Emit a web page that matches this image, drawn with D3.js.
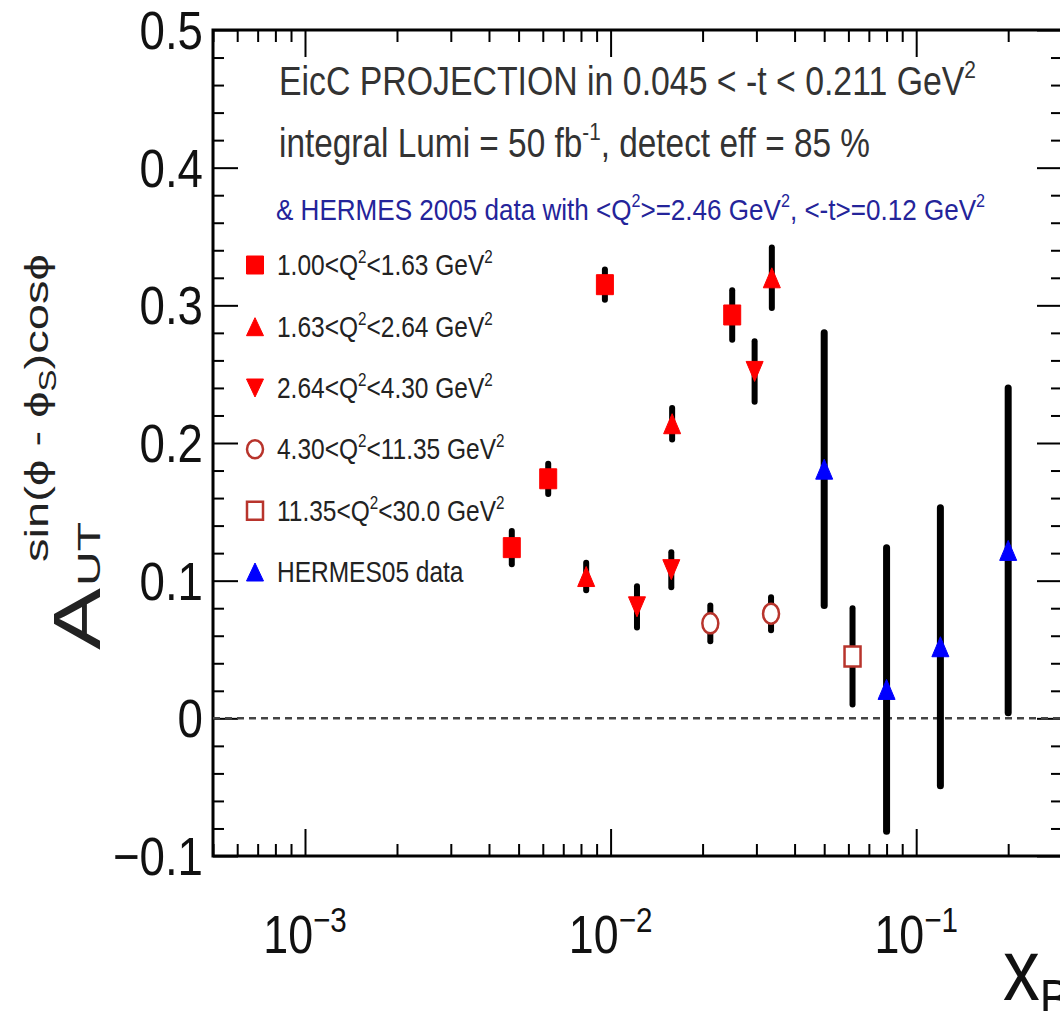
<!DOCTYPE html>
<html>
<head>
<meta charset="utf-8">
<script src="https://cdn.jsdelivr.net/npm/d3@7"></script>
<style>
  html, body { margin: 0; padding: 0; background: #fff; }
  svg { display: block; font-family: "Liberation Sans", Arial, sans-serif; }
</style>
</head>
<body>
<svg id="chart" width="1060" height="1011"></svg>
<script>
const xDomain = [5e-4, 0.3];
const yDomain = [-0.1, 0.5];
const yMajorTicks = [-0.1, 0, 0.1, 0.2, 0.3, 0.4, 0.5];
const yTickLabels = ["\u22120.1", "0", "0.1", "0.2", "0.3", "0.4", "0.5"];
const xMajorTicks = [1e-3, 1e-2, 1e-1];
const xTickLabels = ["10^{\u22123}", "10^{\u22122}", "10^{\u22121}"];

// [x_B, A_UT, error]
const eiccBin1 = [[0.00475, 0.124, 0.012], [0.00625, 0.174, 0.011], [0.00958, 0.315, 0.011], [0.0250, 0.293, 0.018]];
const eiccBin2 = [[0.00832, 0.103, 0.010], [0.0159, 0.214, 0.0115], [0.0337, 0.320, 0.022]];
const eiccBin3 = [[0.0122, 0.081, 0.015], [0.0158, 0.108, 0.0127], [0.0296, 0.252, 0.022]];
const eiccBin4 = [[0.0212, 0.069, 0.013], [0.0335, 0.076, 0.012]];
const eiccBin5 = [[0.0619, 0.045, 0.035]];
const hermes05 = [[0.050, 0.181, 0.099], [0.080, 0.021, 0.103], [0.120, 0.052, 0.101], [0.200, 0.122, 0.118]];

const legendLabels = [
    "1.00<Q^{2}<1.63 GeV^{2}",
    "1.63<Q^{2}<2.64 GeV^{2}",
    "2.64<Q^{2}<4.30 GeV^{2}",
    "4.30<Q^{2}<11.35 GeV^{2}",
    "11.35<Q^{2}<30.0 GeV^{2}",
    "HERMES05 data"
];
const headerLines = [
    "EicC PROJECTION in 0.045 < -t < 0.211 GeV^{2}",
    "integral Lumi = 50 fb^{-1}, detect eff = 85 %",
    "& HERMES 2005 data with <Q^{2}>=2.46 GeV^{2}, <-t>=0.12 GeV^{2}"
];

const red = "#ff0000", hollow = "#b8342c", blue = "#0000ff";
const series = [
    {data: eiccBin1, shape: "square", fill: red, stroke: red, bar: 6},
    {data: eiccBin2, shape: "up", fill: red, stroke: red, bar: 6},
    {data: eiccBin3, shape: "down", fill: red, stroke: red, bar: 6},
    {data: eiccBin4, shape: "circle", fill: "#fff", stroke: hollow, bar: 6},
    {data: eiccBin5, shape: "square", fill: "#fff", stroke: hollow, bar: 6},
    {data: hermes05, shape: "up", fill: blue, stroke: blue, bar: 7}
];

const SQUEEZE = 0.845;   // the plot's text is narrow
const svg = d3.select("#chart");
const padL = 213, padR = 1062, padT = 30, padB = 856;

const x = d3.scaleLog().domain(xDomain).range([padL, padR]);
const y = d3.scaleLinear().domain(yDomain).range([padB, padT]);

// tiny ROOT-like latex: handles ^{..} and _{..}
function latex(parent, str, px, py, size, opt)
{
    opt = opt || {};
    const supScale = opt.supScale || 0.62;
    let g = parent.append("g").attr("transform", `translate(${px},${py}) scale(${SQUEEZE},1)`);
    let t = g.append("text")
        .attr("font-size", size)
        .attr("fill", opt.color || "#222")
        .attr("text-anchor", opt.anchor || "start");
    let shift = 0;
    function piece(s, sh, small) {
        if (!s) return;
        let ts = t.append("tspan").text(s);
        if (sh - shift) ts.attr("dy", sh - shift);
        if (small) ts.attr("font-size", size * supScale);
        shift = sh;
    }
    let re = /([\^_])\{([^}]*)\}/g, last = 0, m;
    while ((m = re.exec(str))) {
        piece(str.slice(last, m.index), 0, false);
        piece(m[2], m[1] === "^" ? -(opt.supShift || 0.42) * size : 0.2 * size, true);
        last = re.lastIndex;
    }
    piece(str.slice(last), 0, false);
    if (opt.length) {
        t.attr("textLength", opt.length / SQUEEZE).attr("lengthAdjust", "spacingAndGlyphs");
    }
    return t;
}

function markerPath(shape, w, h)
{
    const a = w / 2, b = h / 2;
    if (shape === "square") return `M${-a},${-b}H${a}V${b}H${-a}Z`;
    if (shape === "up") return `M0,${-b}L${a},${b}H${-a}Z`;
    if (shape === "down") return `M0,${b}L${a},${-b}H${-a}Z`;
    return `M${-a},0A${a},${b} 0 1,0 ${a},0A${a},${b} 0 1,0 ${-a},0Z`;
}

// ---- ticks
const isMajor = (list, v) => list.some(m => Math.abs(m - v) <= Math.abs(m) * 1e-6 + 1e-9);
const xMinor = x.ticks().filter(v => !isMajor(xMajorTicks, v));
const yMinor = y.ticks(30).filter(v => !isMajor(yMajorTicks, v));

function drawTicks(axis, pos, len, values)
{
    svg.append("g").attr("transform", pos)
        .call(axis.tickValues(values).tickSize(-len).tickSizeOuter(0).tickFormat(""))
        .call(g => g.select(".domain").remove())
        .selectAll("line").attr("stroke", "#000").attr("stroke-width", 2);
}
drawTicks(d3.axisBottom(x), `translate(0,${padB})`, 12, xMinor);
drawTicks(d3.axisBottom(x), `translate(0,${padB})`, 27, xMajorTicks);
drawTicks(d3.axisTop(x), `translate(0,${padT})`, 12, xMinor);
drawTicks(d3.axisTop(x), `translate(0,${padT})`, 27, xMajorTicks);
drawTicks(d3.axisLeft(y), `translate(${padL},0)`, 11, yMinor);
drawTicks(d3.axisLeft(y), `translate(${padL},0)`, 25, yMajorTicks);
drawTicks(d3.axisRight(y), `translate(${padR},0)`, 11, yMinor);
drawTicks(d3.axisRight(y), `translate(${padR},0)`, 25, yMajorTicks);

svg.append("rect")
    .attr("x", padL).attr("y", padT)
    .attr("width", padR - padL).attr("height", padB - padT)
    .attr("fill", "none").attr("stroke", "#000").attr("stroke-width", 3);

// tick labels
yMajorTicks.forEach((v, i) => latex(svg, yTickLabels[i], 203, y(v) + 19, 54, {anchor: "end", color: "#111"}));
xMajorTicks.forEach((v, i) => latex(svg, xTickLabels[i], x(v), 953, 53,
    {anchor: "middle", color: "#111", supScale: 0.66, supShift: 0.4}));

// zero line
svg.append("line")
    .attr("x1", x(xDomain[0])).attr("x2", x(xDomain[1]))
    .attr("y1", y(0)).attr("y2", y(0))
    .attr("stroke", "#444").attr("stroke-width", 2.5)
    .attr("stroke-dasharray", "7 5");

// error bars, then markers
series.forEach(s => {
    svg.append("g").selectAll("line")
        .data(s.data).enter().append("line")
        .attr("x1", d => x(d[0])).attr("x2", d => x(d[0]))
        .attr("y1", d => y(d[1] - d[2])).attr("y2", d => y(d[1] + d[2]))
        .attr("stroke", "#000").attr("stroke-width", s.bar)
        .attr("stroke-linecap", "round");
});
series.forEach(s => {
    const open = s.fill === "#fff";
    svg.append("g").selectAll("path")
        .data(s.data).enter().append("path")
        .attr("transform", d => `translate(${x(d[0])},${y(d[1])})`)
        .attr("d", markerPath(s.shape, open ? 16 : 17, 20))
        .attr("fill", s.fill)
        .attr("stroke", s.stroke)
        .attr("stroke-width", open ? 2.5 : 1);
});

// header text
latex(svg, headerLines[0], 279, 95, 40, {color: "#333", length: 697});
latex(svg, headerLines[1], 279, 157, 40, {color: "#333", length: 591});
latex(svg, headerLines[2], 276, 220, 30, {color: "#24249a", length: 709});

// legend
const legendRows = [265, 326.7, 388, 449.3, 510.7, 572];
series.forEach((s, i) => {
    const open = s.fill === "#fff";
    svg.append("path")
        .attr("transform", `translate(255,${legendRows[i]})`)
        .attr("d", markerPath(s.shape, open ? 16 : 17, 18))
        .attr("fill", s.fill).attr("stroke", s.stroke)
        .attr("stroke-width", open ? 2.5 : 1);
    latex(svg, legendLabels[i], 277, legendRows[i] + 10, 29, {color: "#222"});
});

// y title: A_UT^{sin(phi - phi_S)cos phi}
let yt = svg.append("g").attr("transform", "translate(100,650) rotate(-90) scale(1,0.845)")
    .attr("fill", "#222");
yt.append("text").attr("font-size", 78).attr("textLength", 62)
    .attr("lengthAdjust", "spacingAndGlyphs").text("A");
yt.append("text").attr("x", 64).attr("font-size", 36).attr("textLength", 64)
    .attr("lengthAdjust", "spacingAndGlyphs").text("UT");
let sup = yt.append("text").attr("x", 88).attr("y", -61).attr("font-size", 40)
    .attr("textLength", 308).attr("lengthAdjust", "spacingAndGlyphs");
sup.append("tspan").text("sin(\u03d5 - \u03d5");
sup.append("tspan").attr("dy", 9).attr("font-size", 28).text("S");
sup.append("tspan").attr("dy", -9).text(")cos\u03d5");

// x title
latex(svg, "x_{B}", 1003, 1000, 87, {color: "#111"});
</script>
</body>
</html>
